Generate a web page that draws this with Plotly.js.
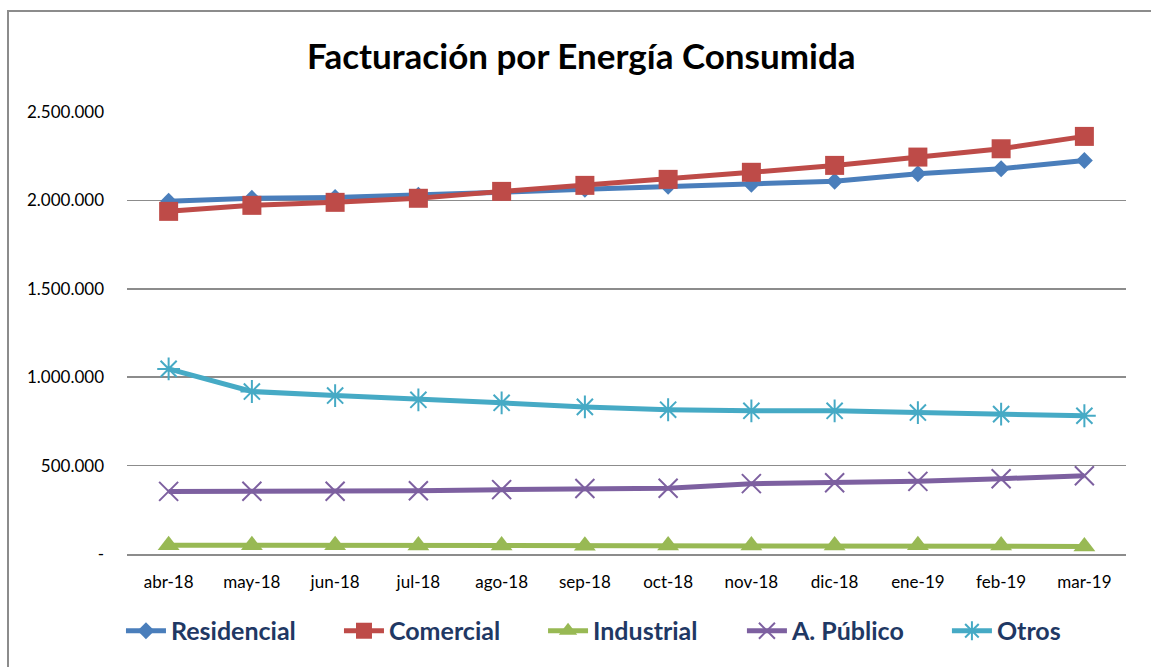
<!DOCTYPE html>
<html>
<head>
<meta charset="utf-8">
<script src="https://cdn.plot.ly/plotly-3.0.1.min.js"></script>
<style>
  html, body { margin: 0; padding: 0; background: #fff; }
  #wrap { position: relative; width: 1151px; height: 667px; }
  #chart { width: 1151px; height: 667px; }
  #frame { position: absolute; left: 7px; top: 10px; right: -10px; bottom: -10px;
           border-top: 2px solid #8c8c8c; border-left: 2px solid #8c8c8c; pointer-events: none; }
</style>
</head>
<body>
<div id="wrap">
  <div id="chart"></div>
  <div id="frame"></div>
</div>
<script>
const months = ["abr-18","may-18","jun-18","jul-18","ago-18","sep-18","oct-18","nov-18","dic-18","ene-19","feb-19","mar-19"];
const residencial = [1995000, 2012000, 2017000, 2029000, 2046000, 2063000, 2080000, 2091000, 2108000, 2151000, 2179000, 2226000];
const comercial   = [1938000, 1972000, 1989000, 2012000, 2051000, 2085000, 2119000, 2159000, 2198000, 2245000, 2292000, 2362000];
const industrial  = [50000, 50000, 49000, 48000, 48000, 47000, 48000, 48000, 48000, 49000, 48000, 43000];
const aPublico    = [354000, 355000, 355000, 358000, 364000, 370000, 372000, 398000, 403000, 411000, 426000, 443000];
const otros       = [1047000, 919000, 896000, 872000, 855000, 832000, 816000, 810000, 810000, 800000, 791000, 782000];
const yTickVals  = [0, 500000, 1000000, 1500000, 2000000, 2500000];
const yTickText  = ["-", "500.000", "1.000.000", "1.500.000", "2.000.000", "2.500.000"];

const FONT = "Lato, 'Open Sans', sans-serif";

function tr(name, y, color, symbol, size, open, legendId) {
  return {
    type: "scatter", mode: "lines+markers", name: name, x: months, y: y, legend: legendId,
    line: { color: color, width: 5 },
    marker: open
      ? { symbol: symbol, size: size, color: color, line: { color: color, width: 2 } }
      : { symbol: symbol, size: size, color: color, line: { width: 0 } }
  };
}

const data = [
  tr("Residencial", residencial, "#4a7ebb", "diamond", 13, false, "legend"),
  tr("Comercial", comercial, "#be4b48", "square", 19, false, "legend2"),
  tr("Industrial", industrial, "#98b954", "triangle-up", 19, false, "legend3"),
  tr("A. Público", aPublico, "#7d60a0", "x-thin-open", 19, true, "legend4"),
  tr("Otros", otros, "#46aac5", "asterisk-open", 19, true, "legend5")
];

function leg(x) {
  return {
    orientation: "h", xref: "container", yref: "container",
    x: x, xanchor: "left", y: 0.054, yanchor: "middle",
    font: { family: FONT, size: 25, color: "#1f3864", weight: "bold" },
    itemwidth: 40, bgcolor: "rgba(0,0,0,0)"
  };
}

const layout = {
  width: 1151, height: 667,
  margin: { l: 127, r: 25, t: 111.5, b: 112.5 },
  paper_bgcolor: "#ffffff", plot_bgcolor: "#ffffff",
  font: { family: FONT, color: "#000000" },
  title: { text: "Facturación por Energía Consumida", x: 0.505, xanchor: "center", y: 0.915, yanchor: "middle",
           font: { family: FONT, size: 35, color: "#000000", weight: "bold" } },
  xaxis: {
    type: "category", range: [-0.5, 11.5], showgrid: false, zeroline: false,
    showline: true, linecolor: "#8c8c8c", linewidth: 2, ticks: "",
    tickfont: { family: FONT, size: 17, color: "#000000" }, ticklabelstandoff: 12,
    fixedrange: true
  },
  yaxis: {
    range: [0, 2500000], tickvals: yTickVals, ticktext: yTickText,
    showgrid: true, gridcolor: "#8c8c8c", gridwidth: 1.5, zeroline: false, showline: false, ticks: "",
    tickfont: { family: FONT, size: 17, color: "#000000" }, ticklabelstandoff: 22,
    fixedrange: true
  },
  legend: leg(0.1051),
  legend2: leg(0.2945),
  legend3: leg(0.4718),
  legend4: leg(0.6446),
  legend5: leg(0.8227),
  showlegend: true
};

Plotly.newPlot("chart", data, layout, { displayModeBar: false, staticPlot: true });
</script>
</body>
</html>
